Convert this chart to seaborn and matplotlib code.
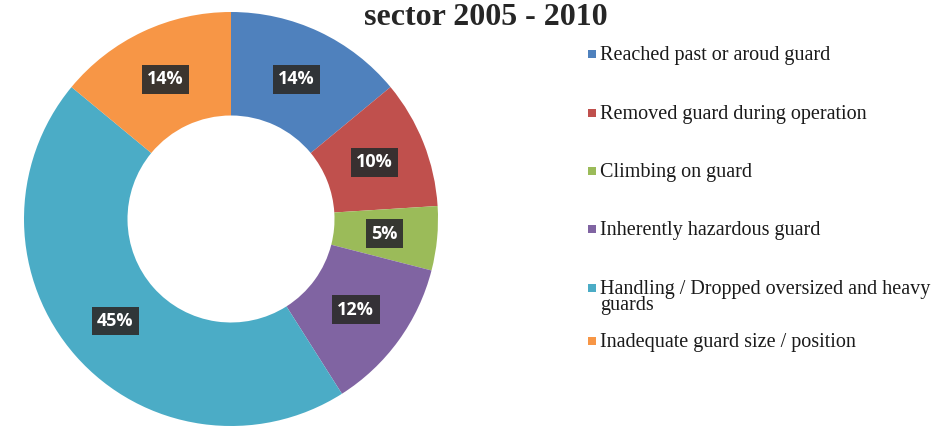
import matplotlib.pyplot as plt
import numpy as np
import seaborn as sns
from matplotlib.patches import Rectangle

# causes of guard-related injuries, share of incidents (%)
causes = [
    "Reached past or aroud guard",
    "Removed guard during operation",
    "Climbing on guard",
    "Inherently hazardous guard",
    "Handling / Dropped oversized and heavy\nguards",
    "Inadequate guard size / position",
]
shares = [14, 10, 5, 12, 45, 14]
colors = ["#4F81BD", "#C0504D", "#9BBB59", "#8064A2", "#4BACC6", "#F79646"]
title = "sector 2005 - 2010"

# legend layout: top of each entry's first line, pixels from the top
legend_rows = [46, 105, 163, 221, 280, 333]
W, H = 938, 432

sns.set_theme(style="white")
palette = sns.color_palette(colors)

fig = plt.figure(figsize=(W / 100, H / 100), dpi=100)
ax = fig.add_axes([24 / W, (H - 427) / H, 414 / W, 416 / H])

wedges, _ = ax.pie(
    shares, colors=palette, startangle=90, counterclock=False,
    radius=1.0, wedgeprops=dict(width=0.5, edgecolor="none"),
)
ax.set_xlim(-1, 1)
ax.set_ylim(-1, 1)
ax.set_aspect("equal")
ax.axis("off")

# percentage labels in dark boxes at the middle of each ring segment
cum = np.cumsum([0] + shares[:-1])
for start, val in zip(cum, shares):
    ang = np.deg2rad(90 - (start + val / 2) * 3.6)
    r = 0.745
    ax.text(
        r * np.cos(ang), r * np.sin(ang), f"{val}%",
        ha="center", va="center", color="white", fontsize=13,
        fontweight="bold", family="Open Sans",
        bbox=dict(boxstyle="square,pad=0.3", facecolor="#2e2e2e",
                  edgecolor="none", alpha=0.93),
    )

fig.text(0.518, 1 - 25 / H, title, ha="center", va="baseline",
         fontsize=23, fontweight="bold", family="Liberation Serif")

# legend drawn row by row so the wrapped entry keeps the original spacing
for label, col, top in zip(causes, palette, legend_rows):
    fig.patches.append(Rectangle(
        (588 / W, 1 - (top + 12) / H), 8 / W, 8 / H,
        transform=fig.transFigure, facecolor=col, edgecolor="none",
    ))
    fig.text(600 / W, 1 - top / H, label, ha="left", va="top",
             fontsize=14.5, family="Liberation Serif", color="#1a1a1a",
             linespacing=0.82)

fig.savefig("out.png", dpi=100, facecolor="white")
